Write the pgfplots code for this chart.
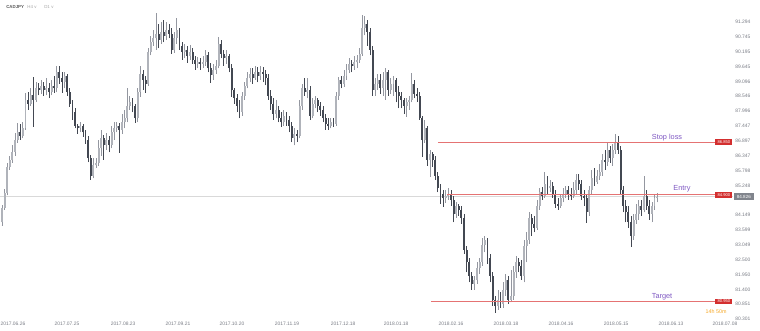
\documentclass[border=0pt]{standalone}
\usepackage{pgfplots}
\pgfplotsset{compat=1.18}
\usepackage{pgfplotstable}
\usepackage{fontspec}
\setmainfont{Liberation Sans}
\definecolor{bull}{HTML}{B0B3BA}
\definecolor{bullw}{HTML}{9497A0}
\definecolor{bear}{HTML}{434852}
\definecolor{lvl}{HTML}{E57373}
\definecolor{lvlbox}{HTML}{D32F2F}
\definecolor{purp}{HTML}{7E57C2}
\definecolor{tickc}{HTML}{7A7D86}
\definecolor{cur}{HTML}{D9D9D9}
\definecolor{curbox}{HTML}{80848C}
\definecolor{orng}{HTML}{F5A623}
\pgfplotstableread{
k o h l c
0 83.89 84.52 83.75 84.41
1 84.41 85.12 84.34 84.97
2 84.97 86.08 84.89 85.93
3 85.93 86.34 85.82 86.19
4 86.19 86.74 86.08 86.48
5 86.48 87.19 86.34 86.93
6 86.93 87.56 86.82 87.22
7 87.22 87.52 86.93 87.08
8 87.08 87.59 87.00 87.37
9 87.37 88.67 87.30 88.41
10 88.41 88.70 88.04 88.26
11 88.26 88.85 88.19 88.59
12 88.59 89.26 87.41 88.41
13 88.41 89.07 88.33 88.85
14 88.85 89.04 88.59 88.78
15 88.78 89.15 88.63 88.93
16 88.93 89.07 88.56 88.78
17 88.78 89.22 88.59 88.85
18 88.85 89.04 88.48 88.70
19 88.70 89.15 88.59 88.93
20 88.93 89.30 88.67 88.85
21 88.85 89.67 88.70 89.44
22 89.44 89.67 89.00 89.22
23 89.22 89.44 88.67 89.07
24 89.07 89.44 88.85 89.30
25 89.30 89.37 88.56 88.70
26 88.70 88.85 88.15 88.26
27 88.26 88.41 87.67 87.96
28 87.96 88.11 87.37 87.45
29 87.45 87.52 87.15 87.37
30 87.37 87.59 87.22 87.45
31 87.45 87.52 87.04 87.22
32 87.22 87.30 86.78 86.93
33 86.93 87.08 86.11 86.26
34 86.26 86.37 85.45 85.60
35 85.60 86.26 85.52 86.00
36 86.00 86.26 85.89 86.08
37 86.08 86.93 85.97 86.63
38 86.63 87.30 86.34 87.00
39 87.00 87.11 86.19 86.74
40 86.74 87.19 86.56 86.93
41 86.93 87.08 86.48 86.74
42 86.74 87.45 86.63 87.22
43 87.22 87.59 86.93 87.37
44 87.37 87.59 87.22 87.45
45 87.45 87.56 86.45 87.30
46 87.30 87.89 87.15 87.59
47 87.59 88.04 87.37 87.74
48 87.74 88.85 87.59 88.19
49 88.19 88.56 88.04 88.33
50 88.33 88.48 87.96 88.19
51 88.19 88.26 87.56 87.74
52 87.74 88.85 87.59 88.70
53 88.70 89.67 88.52 89.37
54 89.37 89.52 88.78 89.15
55 89.15 89.30 88.67 89.00
56 89.00 90.33 88.93 90.18
57 90.18 90.78 90.07 90.55
58 90.55 91.00 90.41 90.70
59 90.70 91.63 90.26 90.85
60 90.85 91.22 90.33 90.63
61 90.63 91.29 90.48 90.92
62 90.92 91.37 90.55 90.78
63 90.78 91.29 90.63 91.00
64 91.00 91.22 90.70 90.85
65 90.85 91.07 90.11 90.26
66 90.26 90.92 90.15 90.70
67 90.70 91.44 90.48 91.00
68 91.00 91.07 90.26 90.41
69 90.41 90.55 89.89 90.18
70 90.18 90.48 89.96 90.26
71 90.26 90.41 89.78 90.04
72 90.04 90.44 89.89 90.18
73 90.18 90.33 89.74 89.89
74 89.89 90.04 89.52 89.74
75 89.74 90.00 89.59 89.81
76 89.81 89.96 89.52 89.74
77 89.74 90.04 89.59 89.81
78 89.81 90.26 89.67 90.07
79 90.07 90.18 89.44 89.59
80 89.59 89.78 89.04 89.33
81 89.33 89.74 89.15 89.52
82 89.52 89.89 89.37 89.67
83 89.67 90.74 89.59 90.48
84 90.48 90.63 89.96 90.11
85 90.11 90.26 89.67 89.96
86 89.96 90.26 89.74 90.04
87 90.04 90.11 89.44 89.59
88 89.59 89.74 88.52 88.78
89 88.78 88.85 88.26 88.48
90 88.48 88.63 87.96 88.19
91 88.19 88.41 87.74 87.96
92 87.96 88.70 87.82 88.56
93 88.56 89.07 88.41 88.93
94 88.93 89.44 88.85 89.22
95 89.22 89.59 89.07 89.37
96 89.37 89.59 89.00 89.22
97 89.22 89.67 89.15 89.44
98 89.44 89.63 89.07 89.30
99 89.30 89.67 89.15 89.44
100 89.44 89.63 89.07 89.37
101 89.37 89.52 88.96 89.22
102 89.22 89.37 88.41 88.56
103 88.56 88.78 88.04 88.26
104 88.26 88.48 87.67 87.89
105 87.89 88.41 87.74 88.04
106 88.04 88.19 87.59 87.74
107 87.74 87.96 87.41 87.59
108 87.59 88.04 87.45 87.82
109 87.82 87.96 87.45 87.67
110 87.67 87.82 87.22 87.45
111 87.45 87.59 86.85 87.00
112 87.00 87.37 86.74 87.15
113 87.15 87.30 86.85 87.08
114 87.08 88.41 87.00 88.19
115 88.19 89.00 88.04 88.85
116 88.85 89.22 88.56 88.70
117 88.70 89.22 88.48 88.78
118 88.78 88.93 87.67 87.82
119 87.82 88.48 87.74 88.26
120 88.26 88.56 88.11 88.41
121 88.41 88.48 87.96 88.19
122 88.19 88.33 87.82 88.04
123 88.04 88.19 87.59 87.74
124 87.74 87.89 87.30 87.52
125 87.52 87.74 87.30 87.45
126 87.45 87.74 87.37 87.59
127 87.59 87.74 87.41 87.52
128 87.52 88.70 87.45 88.56
129 88.56 89.26 88.41 89.15
130 89.15 89.30 88.85 89.00
131 89.00 89.52 88.89 89.30
132 89.30 89.74 89.15 89.52
133 89.52 89.96 89.41 89.74
134 89.74 89.89 89.44 89.67
135 89.67 90.04 89.52 89.81
136 89.81 90.07 89.59 89.89
137 89.89 90.33 89.78 90.11
138 90.11 91.55 90.04 91.07
139 91.07 91.52 90.81 91.22
140 91.22 91.37 90.41 90.92
141 90.92 91.07 90.07 90.26
142 90.26 90.41 88.56 88.78
143 88.78 89.22 88.56 89.00
144 89.00 89.37 88.78 89.15
145 89.15 89.37 88.63 88.85
146 88.85 89.44 88.56 89.15
147 89.15 89.59 88.41 89.44
148 89.44 89.52 88.56 88.78
149 88.78 89.22 88.63 89.00
150 89.00 89.30 88.56 89.15
151 89.15 89.22 88.33 88.70
152 88.70 88.93 88.11 88.56
153 88.56 88.70 88.11 88.41
154 88.41 88.48 87.89 88.19
155 88.19 88.48 87.78 88.33
156 88.33 88.56 88.04 88.41
157 88.41 89.41 88.33 89.00
158 89.00 89.15 88.48 88.63
159 88.63 88.85 88.33 88.56
160 88.56 88.70 87.67 87.74
161 87.74 87.82 86.30 86.93
162 86.93 87.67 86.82 87.37
163 87.37 87.45 85.97 86.19
164 86.19 86.56 85.56 86.41
165 86.41 86.48 85.93 86.19
166 86.19 86.34 85.45 85.60
167 85.60 85.74 85.00 85.15
168 85.15 85.30 84.56 84.93
169 84.93 85.08 84.45 84.78
170 84.78 85.08 84.60 84.86
171 84.86 85.15 84.71 84.93
172 84.93 85.08 84.49 84.71
173 84.71 84.86 83.89 84.19
174 84.19 84.63 84.04 84.49
175 84.49 84.56 84.12 84.34
176 84.34 84.49 83.82 84.04
177 84.04 84.19 82.71 82.86
178 82.86 83.01 82.04 82.41
179 82.41 82.56 81.67 81.90
180 81.90 82.04 81.38 81.60
181 81.60 81.90 81.38 81.75
182 81.75 82.41 81.60 82.19
183 82.19 82.56 81.97 82.41
184 82.41 83.30 82.27 83.04
185 83.04 83.38 82.78 83.23
186 83.23 83.30 82.34 82.56
187 82.56 82.71 81.67 81.90
188 81.90 82.04 80.79 81.01
189 81.01 81.16 80.53 80.79
190 80.79 81.38 80.64 81.01
191 81.01 81.30 80.71 80.86
192 80.86 81.67 80.71 81.38
193 81.38 81.97 81.16 81.75
194 81.75 81.90 80.86 81.01
195 81.01 82.12 80.93 81.16
196 81.16 82.27 81.01 82.04
197 82.04 82.64 81.82 82.41
198 82.41 82.56 82.04 82.27
199 82.27 82.49 81.75 81.90
200 81.90 83.23 81.67 83.01
201 83.01 83.52 82.41 83.23
202 83.23 84.26 83.08 84.04
203 84.04 84.19 83.38 83.82
204 83.82 84.12 83.52 83.67
205 83.67 84.71 83.60 84.49
206 84.49 85.15 84.34 85.00
207 85.00 85.19 84.71 84.86
208 84.86 85.74 84.78 85.30
209 85.30 85.60 84.93 85.15
210 85.15 85.45 85.00 85.23
211 85.23 85.37 84.78 84.93
212 84.93 85.08 84.41 84.56
213 84.56 84.78 84.34 84.49
214 84.49 84.93 84.41 84.78
215 84.78 85.15 84.63 84.93
216 84.93 85.23 84.78 85.08
217 85.08 85.23 84.71 84.93
218 84.93 85.15 84.71 84.86
219 84.86 85.37 84.78 85.08
220 85.08 85.67 84.93 85.45
221 85.45 85.67 85.08 85.30
222 85.30 85.45 84.71 84.86
223 84.86 85.08 84.49 84.78
224 84.78 84.93 83.86 84.26
225 84.26 85.23 84.12 85.08
226 85.08 85.82 84.93 85.52
227 85.52 85.89 85.23 85.37
228 85.37 85.82 85.30 85.60
229 85.60 86.04 85.45 85.74
230 85.74 86.41 85.60 86.19
231 86.19 86.56 85.82 86.11
232 86.11 86.85 85.97 86.56
233 86.56 86.71 86.08 86.26
234 86.26 86.78 85.97 86.56
235 86.56 87.15 86.41 86.85
236 86.85 87.08 86.41 86.56
237 86.56 86.71 84.93 85.08
238 85.08 85.23 84.26 84.49
239 84.49 84.71 83.89 84.26
240 84.26 84.49 83.67 83.89
241 83.89 84.12 82.97 83.38
242 83.38 84.19 83.23 83.97
243 83.97 84.56 83.82 84.19
244 84.19 84.71 83.97 84.49
245 84.49 84.71 84.12 84.34
246 84.34 85.60 84.26 84.86
247 84.86 85.08 84.34 84.49
248 84.49 84.71 83.97 84.19
249 84.19 84.63 83.89 84.49
250 84.49 84.93 84.34 84.78
251 84.78 84.97 84.63 84.83
}\candles
\pgfplotsset{
  candle/.style n args={2}{only marks, mark=*, mark size=0pt, mark options={draw=none, fill=none}, forget plot,
    error bars/.cd, y dir=plus, y explicit, error mark=none,
    error bar style={draw=#1, line width=#2}, /pgfplots/.cd},
}
\begin{document}
\begin{tikzpicture}
\begin{axis}[
  at={(0pt,8.25pt)}, anchor=south west,
  scale only axis, width=549pt, height=240pt,
  xmin=-0.766, xmax=279.69, ymin=80.265, ymax=92.108,
  clip=false,
  axis line style={draw=none},
  major tick length=0pt,
  /pgf/number format/assume math mode=true,
  xtick={4.2,24.9,46.4,67.4,88.1,109.2,130.7,151.0,172.0,193.1,214.2,235.3,256.3,277.0},
  xticklabels={2017.06.26,2017.07.25,2017.08.23,2017.09.21,2017.10.20,2017.11.19,2017.12.18,2018.01.18,2018.02.16,2018.03.18,2018.04.16,2018.05.15,2018.06.13,2018.07.08},
  ytick={80.301,80.851,81.400,81.950,82.500,83.049,83.599,84.149,85.248,85.798,86.347,86.897,87.447,87.996,88.546,89.096,89.645,90.195,90.745,91.294},
  yticklabels={80.301,80.851,81.400,81.950,82.500,83.049,83.599,84.149,85.248,85.798,86.347,86.897,87.447,87.996,88.546,89.096,89.645,90.195,90.745,91.294},
  yticklabel pos=right,
  xticklabel style={anchor=north, inner sep=0pt, yshift=-1.4pt, font=\fontsize{3.7}{4}\selectfont, text=tickc},
  yticklabel style={anchor=west, inner sep=0pt, xshift=2.3pt, font=\fontsize{3.7}{4}\selectfont, text=tickc},
]
% current price line
\addplot[cur, line width=1.1pt, forget plot] coordinates {(-0.766,84.826) (280.1,84.826)};
% wicks
\addplot[restrict expr to domain={\thisrow{c}-\thisrow{o}}{0:100}, candle={bullw}{0.6pt}]
  table[x=k, y=l, y error expr=\thisrow{h}-\thisrow{l}] {\candles};
\addplot[restrict expr to domain={\thisrow{c}-\thisrow{o}}{-100:-0.00001}, candle={bear}{0.6pt}]
  table[x=k, y=l, y error expr=\thisrow{h}-\thisrow{l}] {\candles};
% bodies
\addplot[restrict expr to domain={\thisrow{c}-\thisrow{o}}{0:100}, candle={bull}{1.45pt}]
  table[x=k, y=o, y error expr=\thisrow{c}-\thisrow{o}] {\candles};
\addplot[restrict expr to domain={\thisrow{c}-\thisrow{o}}{-100:-0.00001}, candle={bear}{1.45pt}]
  table[x=k, y=c, y error expr=\thisrow{o}-\thisrow{c}] {\candles};
% levels
\addplot[lvl, line width=0.6pt, forget plot] coordinates {(167.0,86.850) (273.2,86.850)};
\addplot[lvl, line width=0.6pt, forget plot] coordinates {(170.5,84.900) (273.2,84.900)};
\addplot[lvl, line width=0.6pt, forget plot] coordinates {(164.4,80.950) (273.2,80.950)};
\node[fill=lvlbox, text=white, font=\fontsize{3.1}{3.4}\selectfont, inner sep=0pt, minimum width=12.8pt, minimum height=4.4pt, anchor=west] at (axis cs:273.2,86.850) {86.850};
\node[fill=lvlbox, text=white, font=\fontsize{3.1}{3.4}\selectfont, inner sep=0pt, minimum width=12.8pt, minimum height=4.4pt, anchor=west] at (axis cs:273.2,84.900) {84.900};
\node[fill=lvlbox, text=white, font=\fontsize{3.1}{3.4}\selectfont, inner sep=0pt, minimum width=12.8pt, minimum height=4.4pt, anchor=west] at (axis cs:273.2,80.950) {80.950};
\node[fill=curbox, text=white, font=\fontsize{3.4}{3.8}\selectfont, inner sep=0pt, minimum width=15pt, minimum height=5.2pt, anchor=west] at (axis cs:280.3,84.826) {84.826};
\node[text=purp, font=\fontsize{5.5}{6}\selectfont, inner sep=0pt] at (axis cs:254.8,87.00) {Stop loss};
\node[text=purp, font=\fontsize{5.5}{6}\selectfont, inner sep=0pt] at (axis cs:260.5,85.11) {Entry};
\node[text=purp, font=\fontsize{5.5}{6}\selectfont, inner sep=0pt] at (axis cs:252.9,81.12) {Target};
\node[text=orng, font=\fontsize{4}{4.5}\selectfont, inner sep=0pt] at (axis cs:273.6,80.57) {14h 50m};
\end{axis}
\node[anchor=west, inner sep=0pt, text=black!65, font=\fontsize{3.3}{3.8}\selectfont\bfseries] at (4.5pt,243pt) {CADJPY};
\node[anchor=west, inner sep=0pt, text=black!35, font=\fontsize{3.3}{3.8}\selectfont] at (20.3pt,243pt) {H4\,\,v};
\node[anchor=west, inner sep=0pt, text=black!35, font=\fontsize{3.3}{3.8}\selectfont] at (33pt,243pt) {D1\,\,v};
\pgfresetboundingbox
\useasboundingbox (0,0) rectangle (570pt,248.25pt);
\end{tikzpicture}
\end{document}
